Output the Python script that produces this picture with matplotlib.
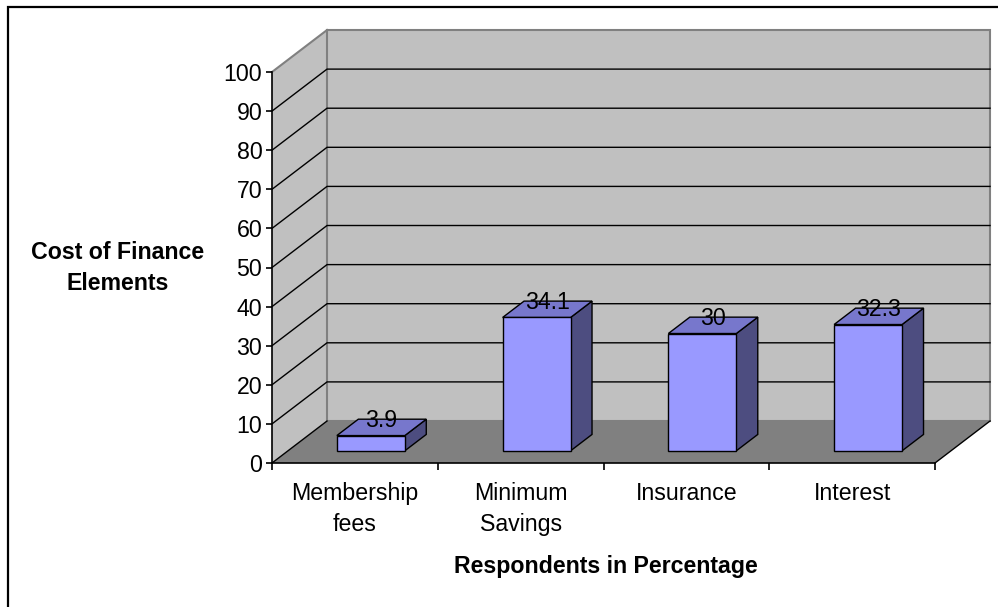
import numpy as np
import matplotlib.pyplot as plt
from matplotlib.patches import Polygon, Rectangle

plt.rcParams["font.family"] = ["Liberation Sans", "DejaVu Sans"]
FS = 16.7

categories = ["Membership\nfees", "Minimum\nSavings", "Insurance", "Interest"]
values = [3.9, 34.1, 30, 32.3]
value_labels = ["3.9", "34.1", "30", "32.3"]
yticks = np.arange(0, 101, 10)

# oblique depth of the box (data units) and bar placement inside it
DX, DY = 0.332, 10.74
F0, F1 = 0.29, 0.68
BW = 0.41

fig = plt.figure(figsize=(9.98, 6.07), dpi=100)
W, H = 998, 607
ax = fig.add_axes([272 / W, 1 - 463 / H, (935 - 272) / W, (463 - 72) / H])
ax.set_xlim(0, 4)
ax.set_ylim(0, 100)
ax.set_facecolor("none")

wall = "#c0c0c0"
edge = "#808080"
# left wall, back wall, floor
ax.add_patch(Polygon([(0, 0), (DX, DY), (DX, 100 + DY), (0, 100)], closed=True,
                     fc=wall, ec="none", clip_on=False, zorder=0))
ax.add_patch(Polygon([(DX, DY), (4 + DX, DY), (4 + DX, 100 + DY), (DX, 100 + DY)], closed=True,
                     fc=wall, ec=edge, lw=1.5, clip_on=False, zorder=0))
ax.add_patch(Polygon([(0, 0), (4, 0), (4 + DX, DY), (DX, DY)], closed=True,
                     fc="#808080", ec="none", clip_on=False, zorder=0))
ax.plot([0, DX], [100, 100 + DY], color=edge, lw=1.5, clip_on=False, zorder=1)
ax.plot([0, DX], [0, DY], color="black", lw=1, clip_on=False, zorder=1)
ax.plot([4, 4 + DX], [0, DY], color="black", lw=1, clip_on=False, zorder=1)

# gridlines on back and side walls
for v in yticks[1:-1]:
    ax.plot([0, DX, 4 + DX], [v, v + DY, v + DY], color="black", lw=1,
            clip_on=False, zorder=1)

# 3d bars
front_c, top_c, side_c = "#9999ff", "#7777cc", "#4d4d80"
for i, v in enumerate(values):
    x0 = i + 0.5 - BW / 2 + F0 * DX
    x1 = x0 + BW
    y0 = F0 * DY
    y1 = y0 + v
    ddx = (F1 - F0) * DX
    ddy = (F1 - F0) * DY
    ax.add_patch(Polygon([(x1, y0), (x1 + ddx, y0 + ddy), (x1 + ddx, y1 + ddy), (x1, y1)],
                         closed=True, fc=side_c, ec="black", lw=1, clip_on=False, zorder=3))
    ax.add_patch(Polygon([(x0, y1), (x1, y1), (x1 + ddx, y1 + ddy), (x0 + ddx, y1 + ddy)],
                         closed=True, fc=top_c, ec="black", lw=1, clip_on=False, zorder=3))
    ax.add_patch(Rectangle((x0, y0), BW, v, fc=front_c, ec="black", lw=1,
                           clip_on=False, zorder=3))
    ax.text((x0 + x1) / 2 + ddx / 2, y1 + ddy - 2.0, value_labels[i],
            ha="center", va="baseline", fontsize=FS, zorder=4)

# axes
for s in ["top", "right"]:
    ax.spines[s].set_visible(False)
ax.spines["left"].set_linewidth(1.2)
ax.spines["bottom"].set_linewidth(1.2)
ax.set_yticks(yticks)
ax.tick_params(axis="y", direction="out", length=4, width=1.2, pad=3, labelsize=FS)
ax.set_xticks(np.arange(0, 5))
ax.set_xticklabels([])
ax.tick_params(axis="x", which="major", direction="out", length=5, width=1.2)
ax.set_xticks(np.arange(4) + 0.5, categories, minor=True)
ax.tick_params(axis="x", which="minor", length=0, pad=14, labelsize=FS)
for lab in ax.get_xticklabels(minor=True):
    lab.set_linespacing(1.4)

fig.text(118 / W, 1 - 268 / H, "Cost of Finance\nElements", ha="center", va="center",
         fontweight="bold", fontsize=FS, linespacing=1.4)
fig.text(606 / W, 1 - 566 / H, "Respondents in Percentage", ha="center", va="center",
         fontweight="bold", fontsize=FS)

# chart border
fig.add_artist(Rectangle((8 / W, -0.05), 1.2, 1 - 7 / H + 0.05, transform=fig.transFigure,
                         fill=False, ec="black", lw=1.6))

fig.savefig("out.png", dpi=100)
